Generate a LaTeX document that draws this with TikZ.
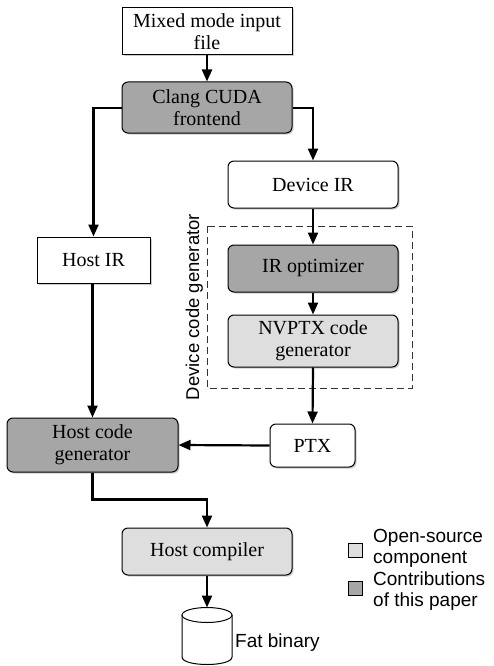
\documentclass[tikz,border=0pt]{standalone}
\usepackage{fontspec}
\setmainfont{Liberation Serif}
\setsansfont{Liberation Sans}
\usetikzlibrary{arrows.meta,shadows}
\definecolor{darkfill}{HTML}{A6A6A6}
\definecolor{lightfill}{HTML}{DEDEDE}
\tikzset{
  box/.style={draw=black, line width=1pt, align=center, inner sep=0pt,
    font=\fontsize{20}{22}\selectfont,
    drop shadow={shadow xshift=1.5pt, shadow yshift=-1.5pt, opacity=0.4}},
  sqbox/.style={box, fill=white},
  rbox/.style={box, rounded corners=6pt, fill=white},
  darkbox/.style={rbox, fill=darkfill},
  lightbox/.style={rbox, fill=lightfill},
  flow/.style={line width=2.2pt, -{Triangle[length=12pt,width=10pt]}},
  legsq/.style={draw=black, line width=0.8pt, minimum size=14pt, inner sep=0pt},
  sanslabel/.style={font=\sffamily\fontsize{19}{21}\selectfont, inner sep=0pt, align=left}
}
\begin{document}
\begin{tikzpicture}[x=1pt, y=-1pt]
\useasboundingbox (0,0) rectangle (493,666);

\node[sqbox, minimum width=170pt, minimum height=47pt] (mixed) at (207,31.5) {Mixed mode input\\file};
\node[darkbox, minimum width=170pt, minimum height=51pt] (clang) at (207,107.5) {Clang CUDA\\frontend};
\node[rbox, minimum width=170pt, minimum height=47pt] (devir) at (313,184.5) {Device IR};
\node[sqbox, minimum width=113pt, minimum height=46pt] (hostir) at (93.5,260) {Host IR};

\draw[line width=0.9pt, dash pattern=on 7pt off 4pt, draw=black!80] (207,226) rectangle (412,388);
\node[sanslabel, font=\sffamily\fontsize{18.5}{18.5}\selectfont, rotate=90, anchor=base] (dcglabel) at (199,307) {Device code generator};

\node[darkbox, minimum width=170pt, minimum height=47pt] (iropt) at (313,268.5) {IR optimizer};
\node[lightbox, minimum width=170pt, minimum height=52pt] (nvptx) at (313,341) {NVPTX code\\generator};
\node[rbox, minimum width=85pt, minimum height=43pt] (ptx) at (312.5,445.5) {PTX};
\node[darkbox, minimum width=171pt, minimum height=54pt] (hostcg) at (92.5,445) {Host code\\generator};
\node[lightbox, minimum width=170pt, minimum height=47pt] (hostcomp) at (207,551.5) {Host compiler};

% cylinder (Fat binary)
\filldraw[fill=white, draw=black, line width=1pt]
  (182,615) -- (182,657) .. controls (182,667) and (232,667) .. (232,657) -- (232,615);
\filldraw[fill=white, draw=black, line width=1pt] (207,615) ellipse [x radius=25pt, y radius=7.5pt];
\coordinate (fattop) at (207,607.5);
\node[sanslabel, anchor=base west] (fatlabel) at (235,647) {Fat binary};

\draw[flow] (mixed.south) -- (clang.north);
\draw[flow] (clang.west |- 0,108) -| (hostir.north);
\draw[flow] (clang.east |- 0,108) -| (devir.north);
\draw[flow] (devir.south) -- (iropt.north);
\draw[flow] (iropt.south) -- (nvptx.north);
\draw[flow] (nvptx.south) -- (ptx.north);
\draw[flow] (hostir.south -| hostcg.north) -- (hostcg.north);
\draw[flow] (ptx.west) -- (hostcg.east);
\draw[flow] (hostcg.south) -- ++(0,27) -| (hostcomp.north);
\draw[flow] (hostcomp.south) -- (fattop);

\node[legsq, fill=lightfill] (leg1) at (355,550) {};
\node[sanslabel, anchor=west] (leg1t) at (373,548) {Open-source\\component};
\node[legsq, fill=darkfill] (leg2) at (355,588) {};
\node[sanslabel, anchor=west] (leg2t) at (373,591) {Contributions\\of this paper};
\end{tikzpicture}
\end{document}
